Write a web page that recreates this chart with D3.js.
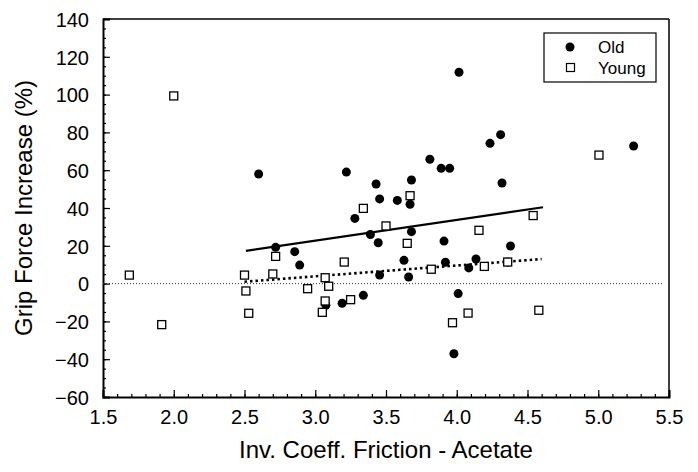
<!DOCTYPE html>
<html>
<head>
<meta charset="utf-8">
<script src="https://cdn.jsdelivr.net/npm/d3@7"></script>
<style>
  body { margin: 0; background: #fff; }
  text { font-family: "Liberation Sans", Arial, sans-serif; fill: #000; }
</style>
</head>
<body>
<div id="chart"></div>
<script>
// Data
const oldX = [2.60, 2.72, 2.855, 2.89, 3.075, 3.19, 3.22, 3.28, 3.34, 3.39, 3.43, 3.445, 3.455, 3.455, 3.58, 3.627, 3.66, 3.67, 3.68, 3.68, 3.81, 3.89, 3.95, 3.91, 3.92, 3.98, 4.01, 4.016, 4.085, 4.136, 4.235, 4.31, 4.32, 4.36, 4.38, 5.25];
const oldY = [58, 19.2, 16.9, 9.8, -11.5, -10.4, 59, 34.5, -6.2, 26, 52.7, 21.6, 44.8, 4.5, 44, 12.3, 3.5, 42, 54.8, 27.5, 65.8, 61, 61, 22.5, 11.3, -37.1, -5.3, 111.8, 8.3, 13, 74.2, 78.8, 53.2, 11.4, 19.9, 72.8];
const youngX = [1.686, 1.915, 2.0, 2.50, 2.51, 2.53, 2.70, 2.72, 2.946, 3.05, 3.07, 3.07, 3.095, 3.205, 3.25, 3.34, 3.50, 3.65, 3.67, 3.82, 3.97, 4.08, 4.157, 4.195, 4.36, 4.54, 4.58, 5.005];
const youngY = [4.5, -21.7, 99.3, 4.5, -3.9, -15.7, 5.1, 14.4, -2.7, -15.2, -9.2, 3.1, -1.4, 11.4, -8.5, 39.8, 30.5, 21.3, 46.5, 7.6, -20.7, -15.6, 28.2, 9.1, 11.4, 36, -14.1, 68];

// regression line endpoints [x, y]
const oldFit = [[2.51, 17.3], [4.61, 40.4]];
const youngFit = [[2.50, 1.0], [4.60, 13.0]];
const zeroLine = [[1.5, 0], [5.46, 0]];

const xTicks = [1.5, 2.0, 2.5, 3.0, 3.5, 4.0, 4.5, 5.0, 5.5];
const yTicks = [-60, -40, -20, 0, 20, 40, 60, 80, 100, 120, 140];

const W = 698, H = 472;
const margin = { top: 19, right: 29, bottom: 75, left: 103 };
const width = W - margin.left - margin.right;
const height = H - margin.top - margin.bottom;

const svg = d3.select("#chart").append("svg")
    .attr("width", W).attr("height", H);

const g = svg.append("g")
    .attr("transform", `translate(${margin.left},${margin.top})`);

const x = d3.scaleLinear().domain([1.5, 5.5]).range([0, width]);
const y = d3.scaleLinear().domain([-60, 140]).range([height, 0]);

// minor ticks (inward)
const xMinor = d3.range(15, 56).map(d => d / 10);
const yMinor = d3.range(-60, 141, 5);

g.append("g")
    .attr("transform", `translate(0,${height})`)
    .call(d3.axisBottom(x).tickValues(xMinor).tickSize(-3).tickFormat(""))
    .call(a => a.select(".domain").remove());
g.append("g")
    .call(d3.axisLeft(y).tickValues(yMinor).tickSize(-3).tickFormat(""))
    .call(a => a.select(".domain").remove());

// major axes
const gx = g.append("g")
    .attr("transform", `translate(0,${height})`)
    .call(d3.axisBottom(x).tickValues(xTicks).tickSize(-7).tickPadding(13).tickFormat(d3.format(".1f")));
const gy = g.append("g")
    .call(d3.axisLeft(y).tickValues(yTicks).tickSize(-7).tickPadding(14).tickFormat(d3.format("d")));

g.selectAll(".tick line").attr("stroke", "#000").attr("stroke-width", 1.2);
g.selectAll(".domain").attr("stroke", "#000").attr("stroke-width", 2);
g.selectAll(".tick text").style("font-size", "20px").attr("fill", "#000");
gy.selectAll(".tick text").attr("dy", "0.36em");

// frame top & right
g.append("line").attr("x1", 0).attr("x2", width).attr("y1", 0).attr("y2", 0)
    .attr("stroke", "#000").attr("stroke-width", 1.5);
g.append("line").attr("x1", width).attr("x2", width).attr("y1", 0).attr("y2", height)
    .attr("stroke", "#000").attr("stroke-width", 1.5);

const line = d3.line().x(d => x(d[0])).y(d => y(d[1]));

g.append("path").attr("d", line(zeroLine))
    .attr("fill", "none").attr("stroke", "#333").attr("stroke-width", 1)
    .attr("stroke-dasharray", "1,2");

g.append("path").attr("d", line(oldFit))
    .attr("fill", "none").attr("stroke", "#000").attr("stroke-width", 2.2);

g.append("path").attr("d", line(youngFit))
    .attr("fill", "none").attr("stroke", "#000").attr("stroke-width", 2.6)
    .attr("stroke-dasharray", "2.5,3");

// points
const oldData = oldX.map((v, i) => ({ x: v, y: oldY[i] }));
const youngData = youngX.map((v, i) => ({ x: v, y: youngY[i] }));

g.selectAll("circle.old")
    .data(oldData)
    .join("circle")
    .attr("class", "old")
    .attr("cx", d => x(d.x))
    .attr("cy", d => y(d.y))
    .attr("r", 4.5)
    .attr("fill", "#000");

const sq = 8;
g.selectAll("rect.young")
    .data(youngData)
    .join("rect")
    .attr("class", "young")
    .attr("x", d => x(d.x) - sq / 2)
    .attr("y", d => y(d.y) - sq / 2)
    .attr("width", sq).attr("height", sq)
    .attr("fill", "#fff").attr("stroke", "#000").attr("stroke-width", 1.3);

// legend
const lg = svg.append("g");
lg.append("rect").attr("x", 544).attr("y", 33).attr("width", 112).attr("height", 49)
    .attr("fill", "#fff").attr("stroke", "#000").attr("stroke-width", 1.2);
lg.append("circle").attr("cx", 570).attr("cy", 47).attr("r", 4.5).attr("fill", "#000");
lg.append("rect").attr("x", 566.5).attr("y", 63.5).attr("width", 8).attr("height", 8)
    .attr("fill", "#fff").attr("stroke", "#000").attr("stroke-width", 1.2);
lg.append("text").attr("x", 598).attr("y", 47).attr("dy", "0.36em").style("font-size", "17px").text("Old");
lg.append("text").attr("x", 598).attr("y", 68).attr("dy", "0.36em").style("font-size", "17px").text("Young");

// axis titles
svg.append("text")
    .attr("x", margin.left + width / 2).attr("y", 458)
    .attr("text-anchor", "middle").style("font-size", "24px")
    .text("Inv. Coeff. Friction - Acetate");
svg.append("text")
    .attr("transform", `translate(32,${margin.top + height / 2}) rotate(-90)`)
    .attr("text-anchor", "middle").style("font-size", "24px")
    .text("Grip Force Increase (%)");
</script>
</body>
</html>
